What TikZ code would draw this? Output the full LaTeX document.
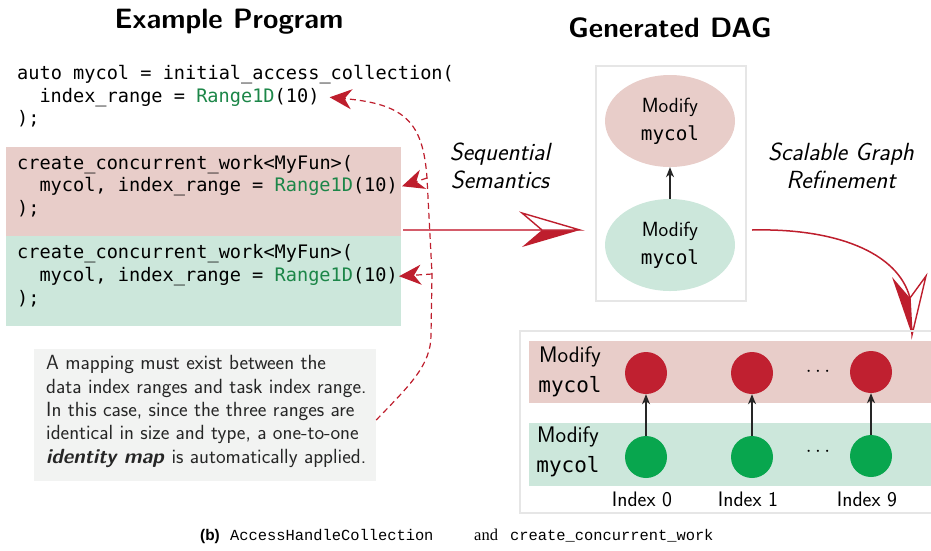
\documentclass[tikz,border=0pt]{standalone}
\usepackage{fontspec}
\usetikzlibrary{arrows.meta,shapes.geometric}
\newfontfamily\codefont{DejaVu Sans Mono}
\newfontfamily\capsans{Liberation Sans}
\newfontfamily\capmono{Liberation Mono}
\newfontfamily\capserif{Liberation Serif}
\definecolor{redbg}{RGB}{232,205,201}
\definecolor{greenbg}{RGB}{204,231,219}
\definecolor{darkred}{RGB}{190,30,45}
\definecolor{lightred}{RGB}{212,92,106}
\definecolor{rangegreen}{RGB}{28,134,72}
\definecolor{circred}{RGB}{192,32,48}
\definecolor{circgreen}{RGB}{8,166,78}
\definecolor{notebg}{RGB}{242,243,242}
\definecolor{boxgray}{RGB}{230,230,230}
\begin{document}
\begin{tikzpicture}[x=1pt,y=-1pt,
  code/.style={anchor=mid west, inner sep=0, font={\codefont\fontsize{18.6}{22}\selectfont}},
  title/.style={inner sep=0, font={\sffamily\bfseries\fontsize{28}{30}\selectfont}},
  italab/.style={inner sep=0, align=center, font={\sffamily\itshape\fontsize{24.8}{28}\selectfont}},
  dagell/.style={ellipse, minimum width=130pt, minimum height=92pt, inner sep=0, align=center,
     font={\sffamily\fontsize{20.5}{28}\selectfont}},
  rowlab/.style={inner sep=0, align=center, font={\sffamily\fontsize{22.5}{30}\selectfont}},
  task/.style={circle, minimum size=42pt, inner sep=0},
  dagarrow/.style={draw=black!85, line width=1.2pt, -{Stealth[length=10pt,width=8pt,inset=3pt]}},
  mapline/.style={draw=darkred, dash pattern=on 6pt off 4pt, line width=1.2pt,
     -{Stealth[length=22pt,width=20pt,inset=7pt]}},
  idxlab/.style={inner sep=0, font={\sffamily\fontsize{21}{22}\selectfont}},
  capt/.style={anchor=mid west, inner sep=0}
]
\useasboundingbox (0,0) rectangle (931,550);

% titles
\node[title] (t1) at (229,22) {Example Program};
\node[title] (t2) at (670,28) {Generated DAG};

% code backgrounds
\node[fill=redbg, minimum width=395pt, minimum height=89pt, inner sep=0] (redcode) at (203.5,191.5) {};
\node[fill=greenbg, minimum width=395pt, minimum height=90pt, inner sep=0] (greencode) at (203.5,281) {};

% code
\node[code] (a1) at (17,77) {auto mycol = initial\_access\_collection(};
\node[code] (a2) at (39.3,100) {index\_range = \textcolor{rangegreen}{Range1D}(10)};
\node[code] (a3) at (17,122) {);};
\node[code] (b1) at (17,167) {create\_concurrent\_work<MyFun>(};
\node[code] (b2) at (39.3,189) {mycol, index\_range = \textcolor{rangegreen}{Range1D}(10)};
\node[code] (b3) at (17,212) {);};
\node[code] (c1) at (17,256) {create\_concurrent\_work<MyFun>(};
\node[code] (c2) at (39.3,279) {mycol, index\_range = \textcolor{rangegreen}{Range1D}(10)};
\node[code] (c3) at (17,302) {);};

% note
\node[fill=notebg, minimum width=342pt, minimum height=132pt, inner sep=0] (notebox) at (205,415) {};
\node[anchor=west, inner sep=0, align=left, text=black!85,
  font={\sffamily\fontsize{20.5}{23.3}\selectfont}] (notetext) at (46,411.5)
  {A mapping must exist between the\\
   data index ranges and task index range.\\
   In this case, since the three ranges are\\
   identical in size and type, a one-to-one\\
   \textbf{\textit{identity map}} is automatically applied.};

% dashed mapping lines
\coordinate (tipa) at ([xshift=10pt]a2.east);
\coordinate (tipb) at ([xshift=4pt]b2.east);
\coordinate (tipc) at ([xshift=1pt]c2.east);
\draw[mapline] ([yshift=-5pt]notebox.east) .. controls (410,385) and (431,365) .. (431,335)
   -- (432,274) coordinate (brc) -- (427,178) coordinate (brb)
   .. controls (423,122) and (405,104) .. (tipa);
\draw[mapline] (brb) -- (tipb);
\draw[mapline] (brc) -- (tipc);

% labels
\node[italab] (seq) at (500,166) {Sequential\\Semantics};
\node[italab] (sgr) at (841,166) {Scalable Graph\\Refinement};

% DAG box
\node[draw=boxgray, line width=2pt, minimum width=150pt, minimum height=235pt, inner sep=0] (dagbox) at (671,183.5) {};
\node[dagell, fill=redbg] (e1) at (670,121) {Modify\\{\codefont\fontsize{19.3}{28}\selectfont mycol}};
\node[dagell, fill=greenbg] (e2) at (670,245) {Modify\\{\codefont\fontsize{19.3}{28}\selectfont mycol}};
\draw[dagarrow] (e2) -- (e1);

% main straight arrow
\coordinate (ms) at (403,230);
\coordinate (mn) at (542,230);
\coordinate (mt) at (580,230);
\coordinate (mu) at (522,213);
\coordinate (ml) at (522,247);
\draw[lightred, line width=2pt] (ms) -- (mn);
\fill[darkred] (mt) -- (ml) -- (mn) -- cycle;
\draw[darkred, line width=1.4pt, fill=white, line join=miter] (mt) -- (mu) -- (mn) -- cycle;

% curved arrow
\coordinate (cs) at (752,230);
\coordinate (cn) at (910,298);
\coordinate (ct) at (912,335);
\coordinate (cl) at (892,277);
\coordinate (cr) at (926,276);
\draw[darkred, line width=1.5pt] (cs) .. controls (835,228) and (898,252) .. (cn);
\fill[darkred] (ct) -- (cl) -- (cn) -- cycle;
\draw[darkred, line width=1.4pt, fill=white, line join=miter] (ct) -- (cr) -- (cn) -- cycle;

% refined graph box
\node[draw=boxgray, line width=2pt, minimum width=425pt, minimum height=182pt, inner sep=0] (refbox) at (732.5,422) {};
\node[fill=redbg, minimum width=420pt, minimum height=62pt, inner sep=0] (redrow) at (739,372) {};
\node[fill=greenbg, minimum width=420pt, minimum height=63pt, inner sep=0] (greenrow) at (739,454.5) {};
\node[rowlab] (rl1) at (570,372) {Modify\\{\codefont\fontsize{21}{30}\selectfont mycol}};
\node[rowlab] (rl2) at (568,452) {Modify\\{\codefont\fontsize{21}{30}\selectfont mycol}};

\node[task, fill=circred] (r0) at (646,373) {};
\node[task, fill=circred] (r1) at (752,373) {};
\node[task, fill=circred] (r9) at (871,372) {};
\node[task, fill=circgreen] (g0) at (646,457) {};
\node[task, fill=circgreen] (g1) at (752,457) {};
\node[task, fill=circgreen] (g9) at (871,456) {};
\draw[dagarrow] (g0) -- (r0);
\draw[dagarrow] (g1) -- (r1);
\draw[dagarrow] (g9) -- (r9);
\node[inner sep=0, font=\fontsize{21}{22}\selectfont] (d1) at (818,372) {$\cdots$};
\node[inner sep=0, font=\fontsize{21}{22}\selectfont] (d2) at (818,452) {$\cdots$};
\node[idxlab] (i0) at (642,499) {Index 0};
\node[idxlab] (i1) at (748,499) {Index 1};
\node[idxlab] (i9) at (867,499) {Index 9};

% caption
\node[capt, font={\capsans\bfseries\fontsize{15.4}{18}\selectfont}] (cb) at (200,538) {(b)};
\node[capt, font={\capmono\fontsize{15.4}{18}\selectfont}] (cahc) at (230,538) {AccessHandleCollection};
\node[capt, font={\capserif\fontsize{16.5}{18}\selectfont}] (cand) at (474,538) {and};
\node[capt, font={\capmono\fontsize{15.4}{18}\selectfont}] (ccw) at (510,538) {create\_concurrent\_work};
\end{tikzpicture}
\end{document}
